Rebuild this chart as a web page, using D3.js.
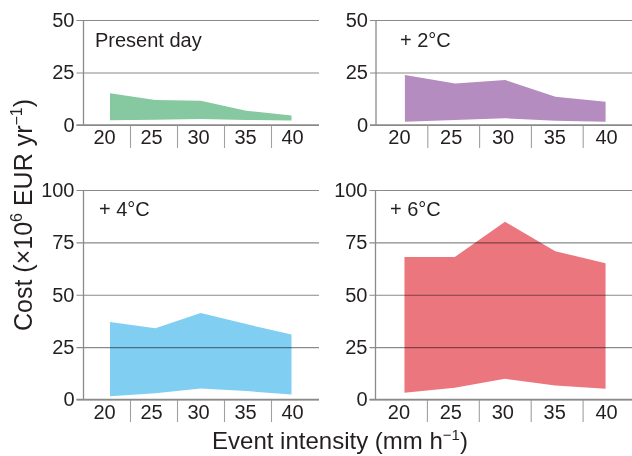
<!DOCTYPE html>
<html>
<head>
<meta charset="utf-8">
<script src="https://cdn.jsdelivr.net/npm/d3@7"></script>
<style>
  html, body { margin: 0; padding: 0; background: #fff; }
  svg { display: block; font-family: "Liberation Sans", Arial, Helvetica, sans-serif; isolation: isolate; }
</style>
</head>
<body>
<script>
// ---- data ----
const intensities = [20, 25, 30, 35, 40];
const panelLabels = ["Present day", "+ 2°C", "+ 4°C", "+ 6°C"];
const presentLow  = [2.3, 2.5, 2.9, 2.4, 2.1];
const presentHigh = [15.1, 11.9, 11.6, 6.8, 4.5];
const plus2Low  = [1.6, 2.4, 3.2, 2.0, 1.6];
const plus2High = [23.8, 19.8, 21.4, 13.5, 11.1];
const plus4Low  = [1.6, 3.0, 5.2, 4.0, 2.4];
const plus4High = [37.0, 34.0, 41.3, 36.0, 31.0];
const plus6Low  = [3.2, 5.6, 9.9, 6.7, 5.1];
const plus6High = [68.0, 68.0, 84.8, 70.8, 65.0];
const yTicksTop = [0, 25, 50];
const yTicksBottom = [0, 25, 50, 75, 100];
const colors = ["#86c8a0", "#b48cc0", "#80cef2", "#ec767e"];
const yTitle = "Cost (×10";
const xTitle = "Event intensity (mm h";

// ---- layout ----
const W = 632, H = 456;
const svg = d3.select("body").append("svg").attr("width", W).attr("height", H);

const panels = [
  { label: panelLabels[0], low: presentLow, high: presentHigh, color: colors[0], ticks: yTicksTop,
    axisX: 83.5, bandEnd: 318.5, gridEnd: 319, y0: 125, yTop: 20, tickLen: 7, sepBottom: 148, lx: 95, ly: 47 },
  { label: panelLabels[1], low: plus2Low, high: plus2High, color: colors[1], ticks: yTicksTop,
    axisX: 376, bandEnd: 635, gridEnd: 632, y0: 125, yTop: 20, tickLen: 6, sepBottom: 148, lx: 400, ly: 47 },
  { label: panelLabels[2], low: plus4Low, high: plus4High, color: colors[2], ticks: yTicksBottom,
    axisX: 83.5, bandEnd: 318.5, gridEnd: 319, y0: 399.5, yTop: 190, tickLen: 7, sepBottom: 422, lx: 99, ly: 216 },
  { label: panelLabels[3], low: plus6Low, high: plus6High, color: colors[3], ticks: yTicksBottom,
    axisX: 375.5, bandEnd: 635, gridEnd: 632, y0: 399.5, yTop: 190, tickLen: 6, sepBottom: 422, lx: 390, ly: 216 }
];

const gridColor = "#8a8a8a";
const textColor = "#231f20";

panels.forEach(p => {
  const g = svg.append("g");
  const x = d3.scaleBand().domain(intensities).range([p.axisX, p.bandEnd]);
  const bw = x.bandwidth();
  const xa = d3.scalePoint().domain(intensities)
    .range([x(intensities[0]) + bw / 2 + 3, x(intensities[intensities.length - 1]) + bw / 2 - 3.5]);
  const ymax = p.ticks[p.ticks.length - 1];
  const y = d3.scaleLinear().domain([0, ymax]).range([p.y0, p.yTop]);

  // area
  const area = d3.area()
    .x((d, i) => xa(intensities[i]))
    .y0(d => y(d[0]))
    .y1(d => y(d[1]));
  g.append("path")
    .datum(d3.zip(p.low, p.high))
    .attr("d", area)
    .attr("fill", p.color);

  // y axis with gridlines
  const yAxis = d3.axisLeft(y)
    .tickValues(p.ticks)
    .tickFormat(d3.format("d"))
    .tickSize(-(p.gridEnd - p.axisX))
    .tickPadding(p.tickLen + 2);
  const ya = g.append("g").attr("transform", `translate(${p.axisX},0)`).call(yAxis);
  ya.select(".domain").remove();
  ya.selectAll(".tick line")
    .attr("x1", -p.tickLen)
    .attr("stroke", gridColor)
    .attr("stroke-width", 1.1)
    .style("mix-blend-mode", "multiply");
  ya.selectAll(".tick text")
    .attr("font-size", 20)
    .attr("font-family", "Liberation Sans, Arial, sans-serif")
    .attr("fill", textColor);

  // y axis vertical line
  g.append("line")
    .attr("x1", p.axisX).attr("x2", p.axisX)
    .attr("y1", y(ymax)).attr("y2", y(0))
    .attr("stroke", gridColor).attr("stroke-width", 1.3);

  // x axis labels
  const xAxis = d3.axisBottom(x).tickSize(0).tickPadding(5);
  const xg = g.append("g").attr("transform", `translate(0,${p.y0})`).call(xAxis);
  xg.select(".domain").remove();
  xg.selectAll(".tick text")
    .attr("font-size", 20)
    .attr("font-family", "Liberation Sans, Arial, sans-serif")
    .attr("fill", textColor)
    .attr("dx", -2.5);

  // separators between categories
  g.selectAll(".sep")
    .data(intensities.slice(1))
    .join("line")
    .attr("x1", d => x(d)).attr("x2", d => x(d))
    .attr("y1", p.y0).attr("y2", p.sepBottom)
    .attr("stroke", "#a0a0a0").attr("stroke-width", 1.1);

  // x axis baseline
  g.append("line")
    .attr("x1", p.axisX - p.tickLen).attr("x2", p.gridEnd)
    .attr("y1", p.y0).attr("y2", p.y0)
    .attr("stroke", gridColor).attr("stroke-width", 1.3);

  // panel label
  g.append("text")
    .attr("x", p.lx).attr("y", p.ly)
    .attr("font-size", 20)
    .attr("fill", textColor)
    .text(p.label);
});

// y axis title
const yt = svg.append("text")
  .attr("transform", "translate(32,215) rotate(-90)")
  .attr("text-anchor", "middle")
  .attr("font-size", 25)
  .attr("fill", textColor);
yt.append("tspan").text(yTitle);
yt.append("tspan").attr("font-size", 16).attr("dy", -10).text("6");
yt.append("tspan").attr("dy", 10).text(" EUR yr");
yt.append("tspan").attr("font-size", 16).attr("dy", -10).text("−1");
yt.append("tspan").attr("dy", 10).text(")");

// x axis title
const xt = svg.append("text")
  .attr("x", 340).attr("y", 449)
  .attr("text-anchor", "middle")
  .attr("font-size", 24)
  .attr("fill", textColor);
xt.append("tspan").text(xTitle);
xt.append("tspan").attr("font-size", 15).attr("dy", -9).text("−1");
xt.append("tspan").attr("dy", 9).text(")");
</script>
</body>
</html>
